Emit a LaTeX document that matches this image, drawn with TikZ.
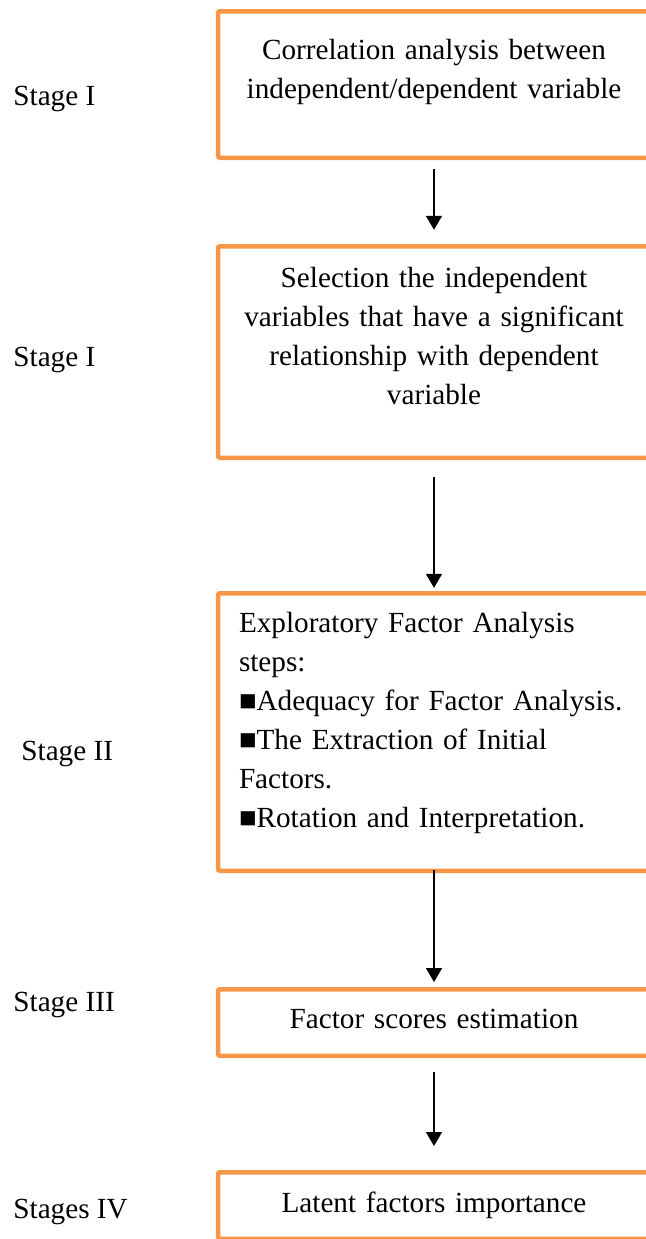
\documentclass[tikz,border=0pt]{standalone}
\usepackage{fontspec}
\setmainfont{Liberation Serif}
\usepackage{xcolor}
\usepackage{tikz}
\usetikzlibrary{arrows.meta}
\definecolor{cerceveTuruncu}{HTML}{F79646}
\newcommand{\metinYazi}{\fontsize{14.6pt}{19.5pt}\selectfont}

\begin{document}
\begin{tikzpicture}[x=0.5pt,y=-0.5pt,
  kutu/.style={draw=cerceveTuruncu,line width=2.25pt,rounded corners=1pt,
               inner sep=0pt,text width=216pt,align=center,font=\metinYazi},
  asama/.style={anchor=base west,inner sep=0pt,font=\metinYazi},
  okCizgi/.style={-{Triangle[length=7pt,width=8pt]},line width=0.8pt,black}]
\useasboundingbox (0,0) rectangle (646,1239);
\node[kutu,text height=23.875pt,text depth=49.375pt] (korelasyon) at (434,84.5)
  {Correlation analysis between\\ independent/dependent variable};
\node[kutu,text height=20.375pt,text depth=85.375pt] (secim) at (434,352)
  {Selection the independent\\ variables that have a significant\\ relationship with dependent\\ variable};
\node[kutu,align=left,inner xsep=10.5pt,text width=195pt,
      text height=19.375pt,text depth=119.375pt] (efa) at (434,732)
  {Exploratory Factor Analysis\\ steps:\\ ■Adequacy for Factor Analysis.\\ ■The Extraction of Initial\\ Factors.\\ ■Rotation and Interpretation.};
\node[kutu,text height=19.375pt,text depth=13.875pt] (skor) at (434,1022.5) {Factor scores estimation};
\node[kutu,text height=19.875pt,text depth=13.375pt] (onem) at (434,1205.5) {Latent factors importance};
\node[asama] (asama1) at (13,105) {Stage I};
\node[asama] (asama2) at (13,366) {Stage I};
\node[asama] (asama3) at (21,760) {Stage II};
\node[asama] (asama4) at (13,1011) {Stage III};
\node[asama] (asama5) at (13,1218) {Stages IV};
\draw[okCizgi,shorten <=4.6pt,shorten >=7.1pt] (korelasyon) -- (secim);
\draw[okCizgi,shorten <=8.5pt,shorten >=1.6pt] (secim) -- (efa);
\draw[okCizgi,shorten <=-1.5pt,shorten >=2.5pt] (efa) -- (skor);
\draw[okCizgi,shorten <=7pt,shorten >=12pt] (skor) -- (onem);
\end{tikzpicture}
\end{document}
